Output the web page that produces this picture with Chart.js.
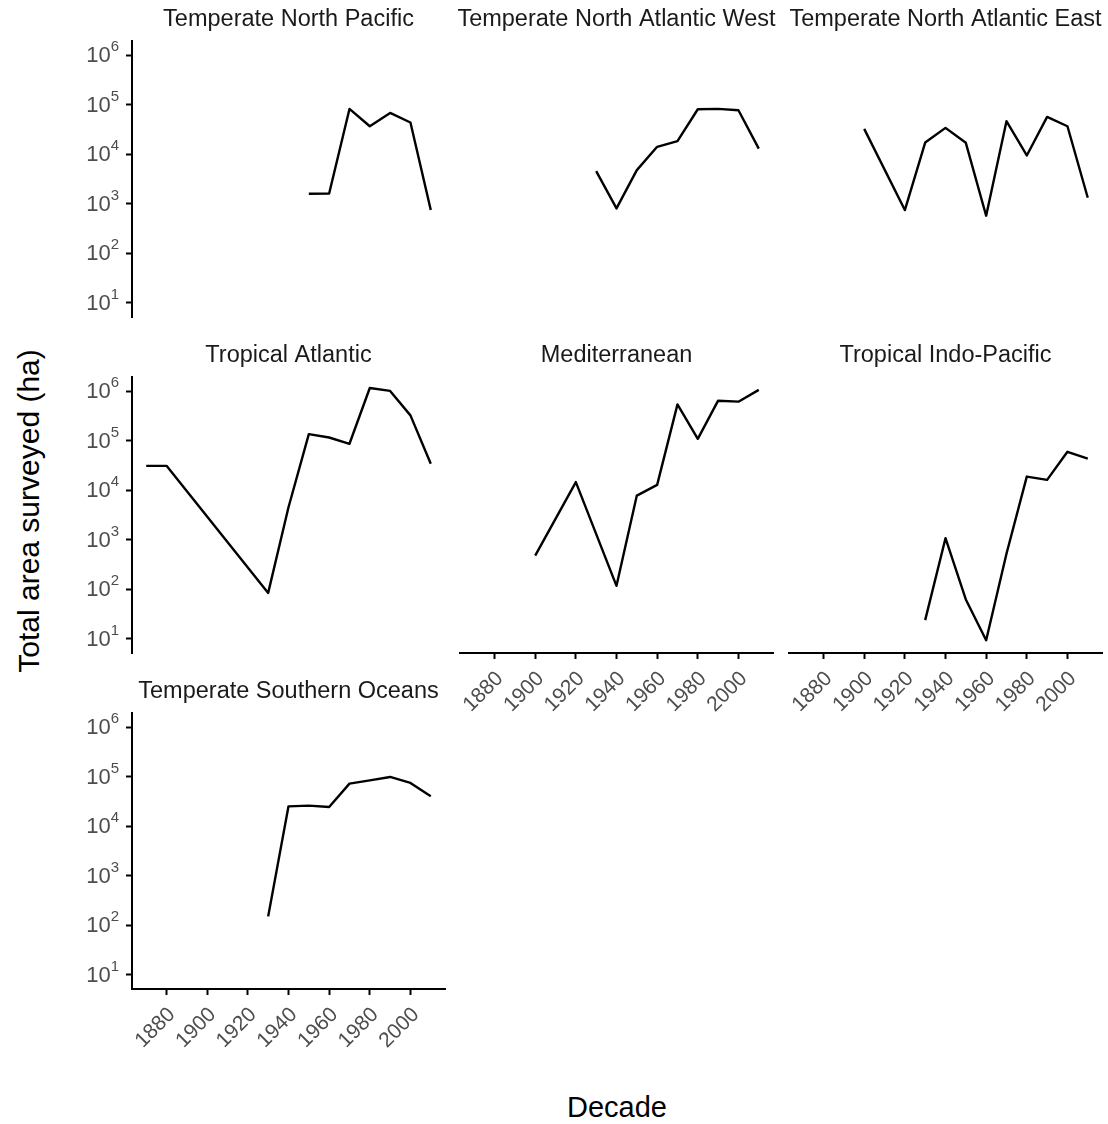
<!DOCTYPE html>
<html>
<head>
<meta charset="utf-8">
<script src="https://cdn.jsdelivr.net/npm/chart.js@4.4.1/dist/chart.umd.min.js"></script>
<style>
  html, body { margin: 0; padding: 0; background: #ffffff; }
  #wrap { position: relative; width: 1108px; height: 1124px; overflow: hidden;
          font-family: "Liberation Sans", Arial, sans-serif; }
  #wrap canvas { position: absolute; }
  .axis-title { position: absolute; line-height: 1; color: #000;
                white-space: nowrap; transform: translate(-50%, -50%); }
  #ytitle { font-size: 30px; transform: translate(-50%, -50%) rotate(-90deg); }
  #xtitle { font-size: 29px; }
</style>
</head>
<body>
<div id="wrap">
  <div class="axis-title" id="ytitle" style="left:29px; top:511px;">Total area surveyed (ha)</div>
  <div class="axis-title" id="xtitle" style="left:617px; top:1107px;">Decade</div>
</div>
<script>
// Survey decades shared by all regions
const decades = [1870, 1880, 1890, 1900, 1910, 1920, 1930, 1940, 1950, 1960, 1970, 1980, 1990, 2000, 2010];

// Total area surveyed (ha) per decade; null = no surveys that decade
const temperateNorthPacific      = [null, null, null, null, null, null, null, null, 1600, 1620, 82800, 37000, 68700, 44000, 750];
const temperateNorthAtlanticWest = [null, null, null, null, null, null, 4580, 811, 4800, 14200, 18500, 81500, 82800, 77800, 13100];
const temperateNorthAtlanticEast = [null, null, null, 32700, null, 750, 17300, 34300, 17100, 577, 46700, 9500, 57100, 37000, 1330];
const tropicalAtlantic           = [31300, 31300, null, null, null, null, 85, 4570, 137000, 117000, 87300, 1170000, 1020000, 327000, 34400];
const mediterranean              = [null, null, null, 479, null, 14700, null, 118, 7850, 12900, 546000, 110000, 648000, 619000, 1070000];
const tropicalIndoPacific        = [null, null, null, null, null, null, 23.9, 1080, 62.7, 9.4, 525, 19000, 16300, 60100, 44000];
const temperateSouthernOceans    = [null, null, null, null, null, null, 152, 25400, 26200, 24700, 72900, 85000, 99500, 75300, 40400];

// Axis ticks
const xTickValues = [1880, 1900, 1920, 1940, 1960, 1980, 2000];
const yTickExponents = [1, 2, 3, 4, 5, 6];

// Shared axis limits (log scale on y)
const X_MIN = 1863, X_MAX = 2017;
const Y_MIN = Math.pow(10, 0.715), Y_MAX = Math.pow(10, 6.29);

// Facet grid layout (pixels)
const COL_LEFT = [132, 460, 789];
const ROW_TOP = [41, 377, 713];
const PLOT_W = 313, PLOT_H = 276;

const FONT = '"Liberation Sans", Arial, sans-serif';

const panels = [
  { title: 'Temperate North Pacific',       values: temperateNorthPacific,      row: 0, col: 0, showX: false, showY: true },
  { title: 'Temperate North Atlantic West', values: temperateNorthAtlanticWest, row: 0, col: 1, showX: false, showY: false },
  { title: 'Temperate North Atlantic East', values: temperateNorthAtlanticEast, row: 0, col: 2, showX: false, showY: false },
  { title: 'Tropical Atlantic',             values: tropicalAtlantic,           row: 1, col: 0, showX: false, showY: true },
  { title: 'Mediterranean',                 values: mediterranean,              row: 1, col: 1, showX: true,  showY: false },
  { title: 'Tropical Indo-Pacific',         values: tropicalIndoPacific,        row: 1, col: 2, showX: true,  showY: false },
  { title: 'Temperate Southern Oceans',     values: temperateSouthernOceans,    row: 2, col: 0, showX: true,  showY: true }
];

// Draws strip titles and the tick labels (10^n with raised exponent, rotated years)
const facetText = {
  id: 'facetText',
  afterDraw(chart, args, opts) {
    const ctx = chart.ctx;
    const area = chart.chartArea;
    ctx.save();

    // strip title
    ctx.font = '23.5px ' + FONT;
    ctx.fillStyle = '#1A1A1A';
    ctx.textAlign = 'center';
    ctx.textBaseline = 'alphabetic';
    ctx.fillText(opts.title, (area.left + area.right) / 2, area.top - 15);

    // y tick labels
    if (opts.showY) {
      const ys = chart.scales.y;
      ys.ticks.forEach(t => {
        const py = ys.getPixelForValue(t.value);
        const e = Math.round(Math.log10(t.value));
        const right = area.left - 13;
        ctx.fillStyle = '#4D4D4D';
        ctx.textAlign = 'right';
        ctx.textBaseline = 'alphabetic';
        ctx.font = '15px ' + FONT;
        const expStr = String(e);
        const ew = ctx.measureText(expStr).width;
        ctx.fillText(expStr, right, py - 4);
        ctx.font = '22px ' + FONT;
        ctx.fillText('10', right - ew, py + 7);
      });
    }

    // x tick labels, rotated 45 degrees
    if (opts.showX) {
      const xs = chart.scales.x;
      ctx.font = '21px ' + FONT;
      ctx.fillStyle = '#4D4D4D';
      ctx.textAlign = 'right';
      ctx.textBaseline = 'top';
      xs.ticks.forEach(t => {
        const px = xs.getPixelForValue(t.value);
        ctx.save();
        ctx.translate(px - 2, area.bottom + 15);
        ctx.rotate(-Math.PI / 4);
        ctx.fillText(String(t.value), 0, 0);
        ctx.restore();
      });
    }
    ctx.restore();
  }
};

const wrap = document.getElementById('wrap');

panels.forEach(p => {
  const padL = p.showY ? 75 : 15, padR = 15, padT = 40, padB = p.showX ? 80 : 10;
  const w = PLOT_W + padL + padR, h = PLOT_H + padT + padB;
  const cv = document.createElement('canvas');
  cv.width = w; cv.height = h;
  cv.style.width = w + 'px'; cv.style.height = h + 'px';
  cv.style.left = (COL_LEFT[p.col] - padL) + 'px';
  cv.style.top = (ROW_TOP[p.row] - padT) + 'px';
  wrap.appendChild(cv);

  const points = [];
  decades.forEach((d, i) => { if (p.values[i] !== null) points.push({ x: d, y: p.values[i] }); });

  const axisStyle = {
    ticks: { display: false },
    grid: { display: true, drawOnChartArea: false, drawTicks: true, tickLength: 6, tickWidth: 2, tickColor: '#000' },
    border: { display: true, color: '#000', width: 2 }
  };

  new Chart(cv, {
    type: 'line',
    data: {
      datasets: [{
        data: points,
        borderColor: '#000',
        borderWidth: 2.4,
        pointRadius: 0,
        tension: 0,
        fill: false,
        spanGaps: true,
        borderJoinStyle: 'round'
      }]
    },
    options: {
      responsive: false,
      animation: false,
      devicePixelRatio: 1,
      layout: { padding: { left: p.showY ? 0 : padL, right: padR, top: padT, bottom: p.showX ? 0 : padB } },
      plugins: {
        legend: { display: false },
        tooltip: { enabled: false },
        facetText: { title: p.title, showX: p.showX, showY: p.showY }
      },
      scales: {
        x: Object.assign({
          type: 'linear', min: X_MIN, max: X_MAX, display: p.showX,
          afterBuildTicks: s => { s.ticks = xTickValues.map(v => ({ value: v })); },
          afterFit: s => { s.height = p.showX ? padB : 0; }
        }, axisStyle),
        y: Object.assign({
          type: 'logarithmic', min: Y_MIN, max: Y_MAX, display: p.showY,
          afterBuildTicks: s => { s.ticks = yTickExponents.map(e => ({ value: Math.pow(10, e) })); },
          afterFit: s => { s.width = p.showY ? padL : 0; }
        }, axisStyle)
      }
    },
    plugins: [facetText]
  });
});
</script>
</body>
</html>
